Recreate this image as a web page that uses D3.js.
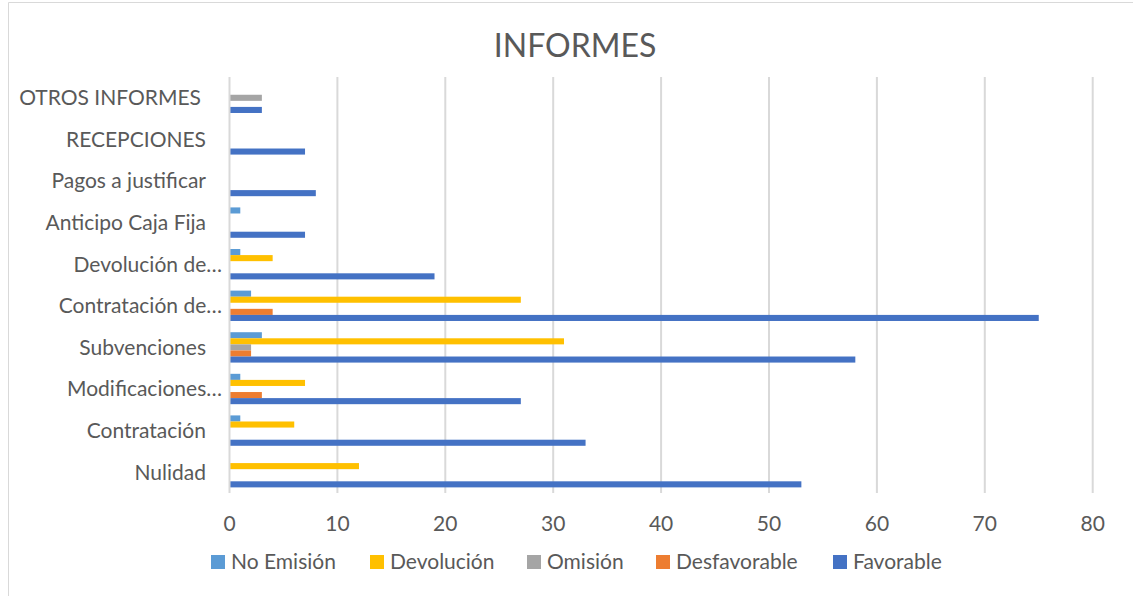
<!DOCTYPE html>
<html>
<head>
<meta charset="utf-8">
<script src="https://cdn.jsdelivr.net/npm/d3@7"></script>
<style>
  body { margin: 0; background: #fff; }
  text { font-family: Lato, "Open Sans", sans-serif; fill: #595959; }
</style>
</head>
<body>
<script>
// canvas size
var width = 1134
var height = 596

// categories from top to bottom
const categories = ["OTROS INFORMES", "RECEPCIONES", "Pagos a justificar", "Anticipo Caja Fija",
    "Devolución de…", "Contratación de…", "Subvenciones", "Modificaciones…", "Contratación", "Nulidad"]

// series in legend order (also top to bottom inside each group)
const seriesNames = ["No Emisión", "Devolución", "Omisión", "Desfavorable", "Favorable"]
const seriesColors = ["#5B9BD5", "#FFC000", "#A5A5A5", "#ED7D31", "#4472C4"]

// values per series, same order as categories
const noEmision    = [0, 0, 0, 1, 1, 2, 3, 1, 1, 0]
const devolucion   = [0, 0, 0, 0, 4, 27, 31, 7, 6, 12]
const omision      = [3, 0, 0, 0, 0, 0, 2, 0, 0, 0]
const desfavorable = [0, 0, 0, 0, 0, 4, 2, 3, 0, 0]
const favorable    = [3, 7, 8, 7, 19, 75, 58, 27, 33, 53]

const xTicks = [0, 10, 20, 30, 40, 50, 60, 70, 80]

const seriesValues = [noEmision, devolucion, omision, desfavorable, favorable]

const svg = d3.select("body").append("svg")
    .attr("width", width)
    .attr("height", height)

// chart border (top + left visible)
svg.append("path")
    .attr("d", "M8.5,596 L8.5,2.5 L1133,2.5")
    .attr("fill", "none")
    .attr("stroke", "#d9d9d9")
    .attr("stroke-width", 1)

// title
svg.append("text")
    .attr("x", 575)
    .attr("y", 57)
    .attr("text-anchor", "middle")
    .attr("font-size", "32px")
    .text("INFORMES")

const plot = { left: 229.5, right: 1092.7, top: 77, bottom: 493 }

const xScale = d3.scaleLinear()
    .domain([0, 80])
    .range([plot.left, plot.right])

const yScale = d3.scaleBand()
    .domain(categories)
    .range([plot.top, plot.bottom])

const bw = yScale.bandwidth()
const ySub = d3.scaleBand()
    .domain(seriesNames)
    .range([bw * 0.135, bw * 0.865])

// gridlines
svg.append("g").selectAll("line")
    .data(xTicks.slice(1))
    .enter().append("line")
    .attr("x1", d => xScale(d)).attr("x2", d => xScale(d))
    .attr("y1", plot.top).attr("y2", plot.bottom)
    .attr("stroke", "#d9d9d9")
    .attr("stroke-width", 2)

// x tick labels
svg.append("g").selectAll("text")
    .data(xTicks)
    .enter().append("text")
    .attr("x", d => xScale(d))
    .attr("y", 531)
    .attr("text-anchor", "middle")
    .attr("font-size", "21px")
    .text(d => d)

// bars
const rows = []
categories.forEach((c, i) => {
    seriesNames.forEach((s, j) => {
        rows.push({ cat: c, series: s, value: seriesValues[j][i], color: seriesColors[j] })
    })
})

svg.append("g").selectAll("rect")
    .data(rows.filter(d => d.value > 0))
    .enter().append("rect")
    .attr("x", xScale(0))
    .attr("y", d => yScale(d.cat) + ySub(d.series))
    .attr("width", d => xScale(d.value) - xScale(0))
    .attr("height", ySub.bandwidth())
    .attr("fill", d => d.color)

// vertical axis line
svg.append("line")
    .attr("x1", plot.left).attr("x2", plot.left)
    .attr("y1", plot.top).attr("y2", plot.bottom)
    .attr("stroke", "#d9d9d9")
    .attr("stroke-width", 2)

// category labels
svg.append("g").selectAll("text")
    .data(categories)
    .enter().append("text")
    .attr("x", d => d.endsWith("…") ? 222 : (d == "OTROS INFORMES" ? 201 : 206))
    .attr("y", d => yScale(d) + bw / 2)
    .attr("dy", "0.35em")
    .attr("text-anchor", "end")
    .attr("font-size", "21px")
    .text(d => d)

// legend
const legendX = [211, 370, 527, 656, 833]
const legend = svg.append("g").selectAll("g")
    .data(seriesNames)
    .enter().append("g")
    .attr("transform", (d, i) => "translate(" + legendX[i] + ",555)")
legend.append("rect")
    .attr("width", 14).attr("height", 14)
    .attr("fill", (d, i) => seriesColors[i])
legend.append("text")
    .attr("x", 20)
    .attr("y", 14)
    .attr("font-size", "21px")
    .text(d => d)
</script>
</body>
</html>
